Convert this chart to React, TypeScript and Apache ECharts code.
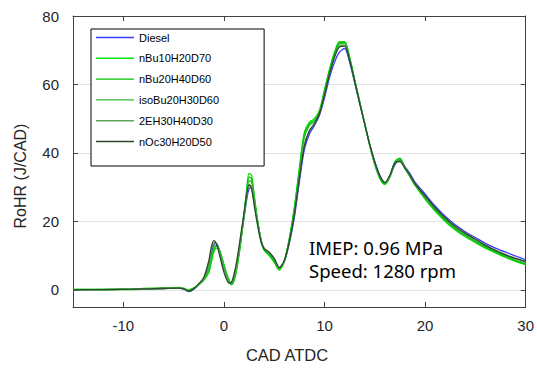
import React, { useEffect, useRef } from "react";
import * as echarts from "echarts";

const cad = [-15,-12,-9,-6,-4.5,-4,-3.5,-3,-2.5,-2,-1.5,-1.25,-1,-0.75,-0.5,-0.25,0,0.25,0.5,0.75,1,1.25,1.5,1.75,2,2.25,2.5,2.75,3,3.25,3.5,3.75,4,4.5,5,5.5,6,6.5,7,7.5,8,8.5,9,9.5,10,10.5,11,11.5,12,12.5,13,13.5,14,14.5,15,15.5,16,16.5,17,17.5,18,18.5,19,20,21,22,23,24,25,26,27,28,29,30];

const diesel = [0.0,0.1,0.2,0.4,0.5,0.2,-0.5,0.2,1.5,3.2,7.0,10.5,13.2,13.6,12.2,9.5,6.5,4.2,2.5,1.8,3.2,6.5,11,16,21,26,29.5,29.8,26,21.5,17.5,14,12.2,10.8,9.0,6.5,8.2,13.5,21,31.5,41,45.5,48,51,56,62,66.5,69.5,70.5,66.5,60.5,54.5,48.5,42.5,37.5,33.5,31.3,33,36.5,37.8,36,34,31.5,28,24.5,21.5,19,17,15.3,13.6,12.2,11,9.9,8.8];

const nBu10H20D70 = [0.2,0.0,0.3,0.6,0.6,0.5,0.0,0.6,1.5,2.8,5.0,8.0,11.0,12.2,11.8,10.0,7.5,5.0,3.0,1.5,2.5,5.5,10,15.5,22,29,34,33.5,28,22.5,17.5,13.5,11.5,10,8,5.8,8.5,15,24,35.5,46,49,50,52.5,58.5,64.5,69.5,72.5,72.5,68,61.5,55,48.5,42,36.5,32.5,30.8,33,37.5,38.5,35.5,33,30.5,26.5,23,20,17.5,15.5,13.8,12.2,10.8,9.5,8.3,7.3];

const nBu20H40D60 = [0.1,0.2,0.1,0.5,0.7,0.4,-0.2,0.5,1.6,3.0,5.8,9.0,11.8,12.8,12.0,9.8,7.0,4.6,2.8,1.6,2.8,6.0,10.5,16,22,28,33,32.5,27.5,22,17.5,13.8,11.8,10.3,8.4,6.0,8.4,14.8,23.5,35,45.5,48.5,49.5,52,58,64,69,72.2,72.3,67.8,61.3,55,48.5,42.2,36.8,32.8,31,33.2,37.3,38.3,35.8,33.2,30.8,26.8,23.3,20.3,17.8,15.8,14,12.4,11,9.7,8.5,7.5];

const isoBu20H30D60 = [0.0,0.1,0.3,0.4,0.6,0.3,-0.3,0.4,1.5,3.1,6.2,9.5,12.2,13.0,12.0,9.6,6.8,4.4,2.6,1.7,3.0,6.2,10.8,16,21.5,27,31.8,31.5,27,21.8,17.5,13.8,12,10.5,8.7,6.2,8.3,14.3,23,34,44.5,48,49,51.8,57.5,63.5,68.5,71.8,72,67.5,61,54.8,48.5,42.3,37,33,31.1,33.2,37,38,35.8,33.3,31,27,23.6,20.6,18.1,16,14.3,12.7,11.3,10,8.8,7.8];

const eh30H40D30 = [0.1,0.0,0.2,0.5,0.5,0.3,-0.4,0.3,1.6,3.3,7.5,11.5,13.8,13.4,11.5,8.8,6.0,3.8,2.3,2.0,3.8,7.2,11.8,17,22,27,30.8,30.2,25.6,21,17,13.8,12,10.9,9.1,6.4,8.4,14,22,33,42.5,46.5,48.5,51.5,57,63,68,71.2,71.5,67,61,54.6,48.5,42.4,37.2,33.2,31.2,33.4,37,37.7,35.6,33.5,31,27.4,24,21,18.5,16.5,14.8,13.1,11.6,10.3,9.2,8.1];

const nOc30H20D50 = [0.0,0.1,0.2,0.4,0.5,0.3,-0.4,0.3,1.8,3.6,8.5,12.5,14.4,13.5,11.0,8.0,5.2,3.2,2.0,2.2,4.5,8.0,12.5,17.5,22.5,27.5,30.7,29.5,25,20.5,16.5,13.5,12,11,9.2,6.5,8.5,14,22,32.5,42,46.5,48.5,51.5,57,63,68,71,71.2,67,61,54.5,48.5,42.5,37.3,33.3,31.3,33.5,37,37.5,35.5,33.5,31,27.5,24,21,18.5,16.5,14.8,13,11.5,10.2,9.2,8.3];

const seriesNames = ["Diesel", "nBu10H20D70", "nBu20H40D60", "isoBu20H30D60", "2EH30H40D30", "nOc30H20D50"];
const seriesValues = [diesel, nBu10H20D70, nBu20H40D60, isoBu20H30D60, eh30H40D30, nOc30H20D50];
const seriesColors = ["#3a3aff", "#00e600", "#00c400", "#33b533", "#5fa35f", "#2a4a2a"];

const xTicks = [-10, 0, 10, 20, 30];
const yTicks = [0, 20, 40, 60, 80];

const axisColor = "#404040";
const labelColor = "#262626";
const font = "'Liberation Sans', Arial, sans-serif";

export default function App() {
  const ref = useRef<HTMLDivElement>(null);
  useEffect(() => {
    if (!ref.current) return;
    const chart = echarts.init(ref.current, null, { renderer: "svg" });
    const series = seriesNames.map((name, i) => ({
      name,
      type: "line",
      data: cad.map((x, j) => [x, seriesValues[i][j]]),
      showSymbol: false,
      symbol: "none",
      smooth: 0.3,
      lineStyle: { color: seriesColors[i], width: 1.3 },
      itemStyle: { color: seriesColors[i] },
      z: 2 + i,
    }));
    const baseX = {
      type: "value",
      min: -15,
      max: 30,
      axisLine: { show: true, onZero: false, lineStyle: { color: axisColor, width: 1 } },
      axisTick: { show: true, inside: true, length: 5, customValues: xTicks, lineStyle: { color: axisColor } },
      splitLine: { show: false },
    };
    const baseY = {
      type: "value",
      min: -5,
      max: 80,
      axisLine: { show: true, onZero: false, lineStyle: { color: axisColor, width: 1 } },
      axisTick: { show: true, inside: true, length: 5, customValues: yTicks, lineStyle: { color: axisColor } },
    };
    chart.setOption({
      animation: false,
      backgroundColor: "#ffffff",
      grid: { left: 73, right: 6, top: 16, bottom: 62, containLabel: false },
      xAxis: [
        {
          ...baseX,
          position: "bottom",
          axisLabel: { customValues: xTicks, color: labelColor, fontSize: 15, fontFamily: font, margin: 11 },
        },
        {
          ...baseX,
          position: "top",
          axisLabel: { show: false },
        },
      ],
      yAxis: [
        {
          ...baseY,
          position: "left",
          axisLabel: { customValues: yTicks, color: labelColor, fontSize: 15, fontFamily: font, margin: 14, padding: [0, 0, 6, 0] },
          splitLine: { show: true, lineStyle: { color: "#e2e2e2", width: 1 } },
        },
        {
          ...baseY,
          position: "right",
          axisLabel: { show: false },
          splitLine: { show: false },
        },
      ],
      legend: {
        show: true,
        orient: "vertical",
        left: 91,
        top: 29,
        padding: [3, 45, 19, 5],
        icon: "rect",
        itemWidth: 38,
        itemHeight: 1.4,
        itemGap: 9.8,
        borderColor: "#000000",
        borderWidth: 1,
        backgroundColor: "#ffffff",
        textStyle: { color: "#000000", fontSize: 11, fontFamily: font, lineHeight: 11 },
        data: seriesNames,
      },
      graphic: [
        {
          type: "text",
          x: 20,
          y: 176,
          rotation: Math.PI / 2,
          style: {
            text: "RoHR (J/CAD)",
            fill: labelColor,
            font: `16px ${font}`,
            align: "center",
            verticalAlign: "middle",
          },
        },
        {
          type: "text",
          x: 287,
          y: 355,
          style: {
            text: "CAD ATDC",
            fill: labelColor,
            font: `16.5px ${font}`,
            align: "center",
            verticalAlign: "middle",
          },
        },
        {
          type: "text",
          x: 309,
          y: 247,
          style: {
            text: "IMEP: 0.96 MPa",
            fill: "#000000",
            font: "18.5px 'Noto Sans', sans-serif",
            align: "left",
            verticalAlign: "middle",
          },
        },
        {
          type: "text",
          x: 309,
          y: 270,
          style: {
            text: "Speed: 1280 rpm",
            fill: "#000000",
            font: "18.5px 'Noto Sans', sans-serif",
            align: "left",
            verticalAlign: "middle",
          },
        },
      ],
      series,
    });
    return () => chart.dispose();
  }, []);
  return <div ref={ref} style={{ position: "absolute", left: 0, top: 0, width: 537, height: 369 }} />;
}
